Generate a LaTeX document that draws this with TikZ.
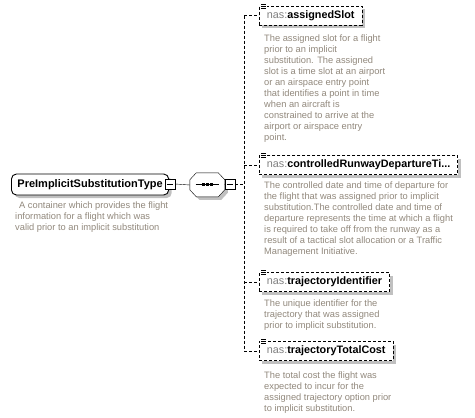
\documentclass[tikz,border=0pt]{standalone}
\usepackage{fontspec}
\setmainfont{Liberation Sans}
\usetikzlibrary{shadows,positioning}

\definecolor{annotgray}{RGB}{145,136,124}
\definecolor{prefixgray}{RGB}{128,128,128}
\definecolor{shadowgray}{RGB}{192,192,192}

\newcommand{\nsname}[1]{{\color{prefixgray}nas:}\textbf{#1}}

\begin{document}
\begin{tikzpicture}[x=1pt,y=-1pt,
	boxshadow/.style={drop shadow={shadow xshift=3pt, shadow yshift=-3pt, fill=shadowgray, opacity=1}},
	typebox/.style={draw, rounded corners=5pt, fill=white, line width=0.9pt, minimum height=21pt,
		inner xsep=6pt, inner ysep=0pt, anchor=west, font=\fontsize{11}{13}\selectfont\bfseries, boxshadow},
	elembox/.style={draw, dash pattern=on 3pt off 2pt, line width=0.8pt, fill=white, minimum height=19pt,
		inner xsep=7.5pt, inner ysep=0pt, anchor=west, font=\fontsize{10.8}{13}\selectfont, boxshadow},
	minusbox/.style={draw, fill=white, minimum size=10pt, inner sep=0pt},
	seqbox/.style={minimum width=35pt, minimum height=24pt, inner sep=0pt},
	annot/.style={anchor=north west, inner sep=0pt, align=left, text=annotgray, font=\fontsize{9.3}{11}\selectfont},
	dashline/.style={dash pattern=on 3pt off 2pt, line width=0.8pt}
	]
	
	\useasboundingbox (0,0) rectangle (475,418);
	
	\def\spineX{244} % x of the vertical connector
	\def\childX{259} % left edge of the child boxes
	\def\noteX{264} % left edge of the descriptions
	
	% The complex type and its description
	\node[typebox] (main) at (11,184.5) {PreImplicitSubstitutionType};
	\node[minusbox] (mainMinus) at (170,184) {};
	\node[annot] (mainNote) at (15,201.4) {\hspace{4pt}A container which provides the flight\\information for a flight which was\\valid prior to an implicit substitution};
	
	% Sequence compositor (octagon)
	\node[seqbox] (seq) at (207.5,185) {};
	\path[draw, fill=white, boxshadow] (seq.north west) ++(6.5,0) -- ++(22,0) -- ++(6.5,7) -- ++(0,10)
		-- ++(-6.5,7) -- ++(-22,0) -- ++(-6.5,-7) -- ++(0,-10) -- cycle;
	\node[minusbox] (seqMinus) at (230,184) {};
	\draw (seq.center) ++(-12,-1) -- ++(23,0);
	\foreach \dx in {-4,0,4} {
		\fill (seq.center) ++(\dx-1.5,-2.5) rectangle ++(3,3);
	}
	
	% The child elements
	\node[elembox] (slot) at (\childX,15.5) {\nsname{assignedSlot}};
	\node[elembox] (runway) at (\childX,165) {\nsname{controlledRunwayDepartureTi...}};
	\node[elembox] (ident) at (\childX,282) {\nsname{trajectoryIdentifier}};
	\node[elembox] (cost) at (\childX,351) {\nsname{trajectoryTotalCost}};
	
	% Annotation marks on the child boxes
	\foreach \n in {slot,runway,ident,cost} {
		\fill[white] (\n.north west) ++(1,-2.5) rectangle ++(7,7);
		\foreach \dy in {-1.5,0.5,2.5} {
			\draw[line width=0.6pt] (\n.north west) ++(2,\dy) -- ++(5,0);
		}
	}
	
	% Descriptions of the child elements
	\node[annot] (slotNote) at (\noteX,34.4) {The assigned slot for a flight\\prior to an implicit\\substitution. The assigned\\slot is a time slot at an airport\\or an airspace entry point\\that identifies a point in time\\when an aircraft is\\constrained to arrive at the\\airport or airspace entry\\point.};
	\node[annot] (runwayNote) at (\noteX,181.4) {The controlled date and time of departure for\\the flight that was assigned prior to implicit\\substitution.The controlled date and time of\\departure represents the time at which a flight\\is required to take off from the runway as a\\result of a tactical slot allocation or a Traffic\\Management Initiative.};
	\node[annot] (identNote) at (\noteX,299.4) {The unique identifier for the\\trajectory that was assigned\\prior to implicit substitution.};
	\node[annot] (costNote) at (\noteX,371.4) {The total cost the flight was\\expected to incur for the\\assigned trajectory option prior\\to implicit substitution.};
	
	% Connectors
	\coordinate (spine) at (\spineX,0);
	\draw (mainMinus.east) -- (seq.west);
	\draw (seqMinus.west) -- (seq.east);
	\draw[dashline] (seqMinus.east) -- (seqMinus.east -| spine);
	\draw[dashline] (slot.west -| spine) -- (cost.west -| spine);
	\foreach \n in {slot,runway,ident,cost} {
		\draw[dashline] (\n.west -| spine) -- (\n.west);
	}
	
	% Minus signs
	\foreach \n in {mainMinus,seqMinus} {
		\draw (\n.west) ++(2,0) -- ++(6,0);
	}
\end{tikzpicture}
\end{document}
